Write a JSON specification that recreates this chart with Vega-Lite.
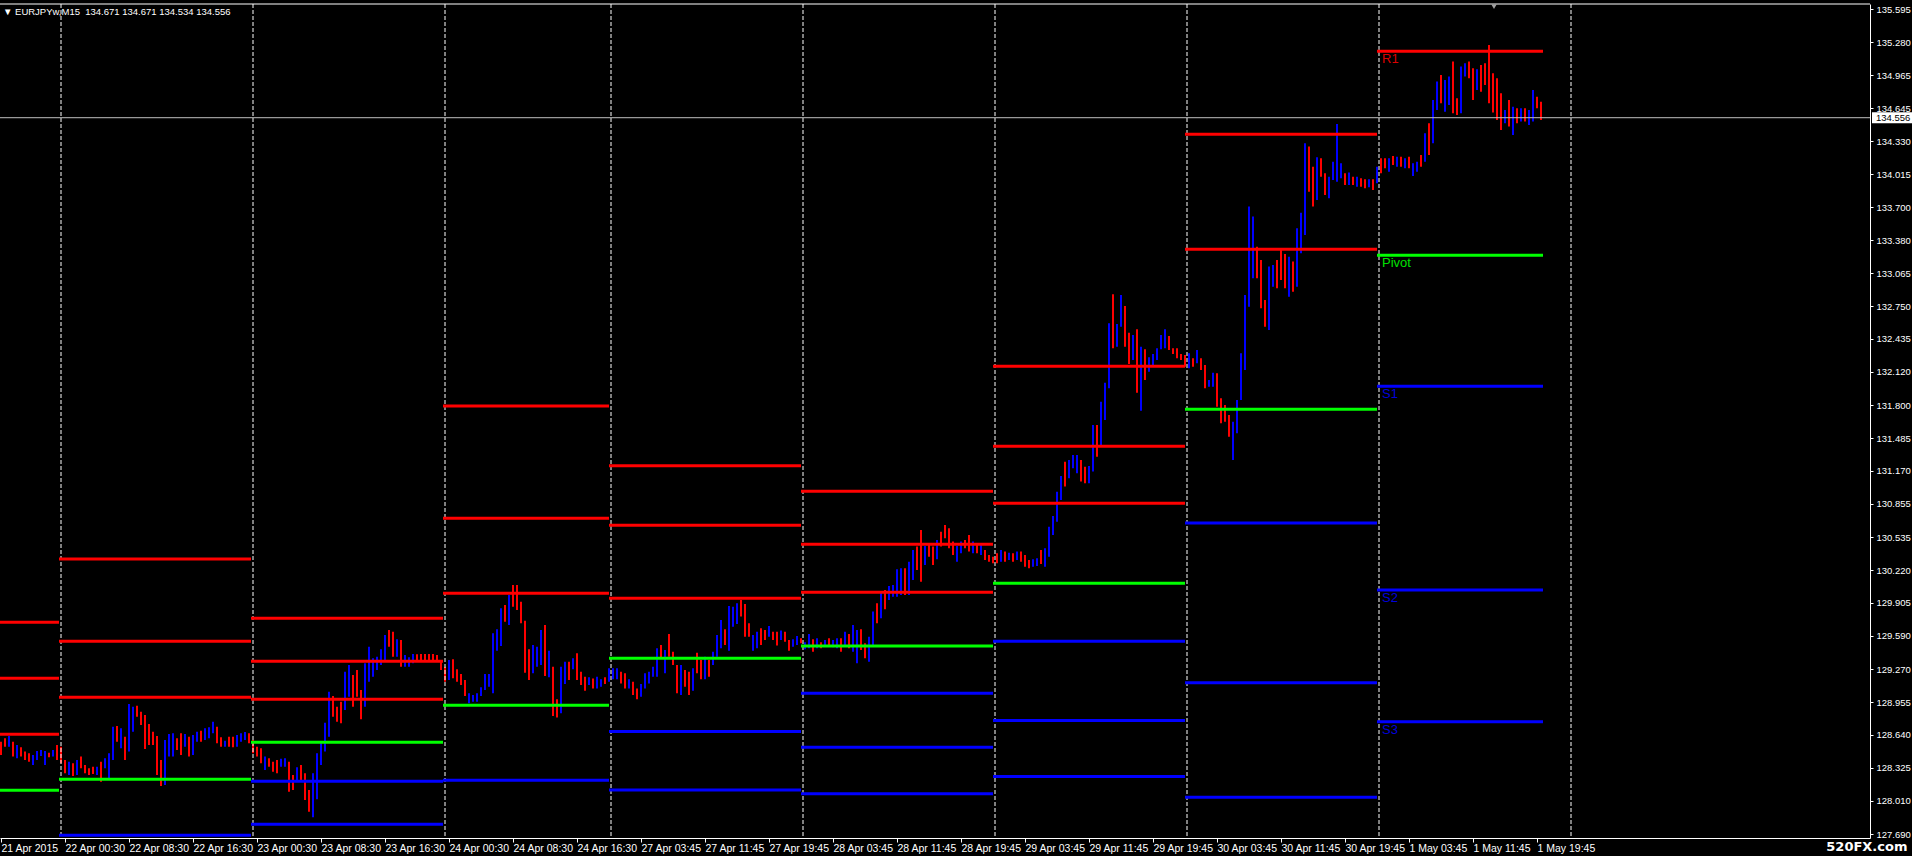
{
"$schema": "https://vega.github.io/schema/vega-lite/v6.json",
"width": 1870, "height": 834,
"autosize": {"type": "none"},
"padding": {"left": 0, "top": 4, "right": 42, "bottom": 18},
"background": "#000000",
"config": {"view": {"stroke": null}, "font": "Liberation Sans", "axis": {"labelOverlap": false}},
"datasets": {
"hdr": [{"t": "\u25bc EURJPYw,M15\u00a0\u00a0134.671 134.671 134.534 134.556"}],
"sep": [{"s":30},{"s":126},{"s":222},{"s":305},{"s":401},{"s":497},{"s":593},{"s":689},{"s":785}],
"cur": [{"p":134.556,"t":"134.556"}],
"piv": [
{"x1":-1,"x2":29,"v":129.719,"c":"R"},{"x1":-1,"x2":29,"v":129.183,"c":"R"},{"x1":-1,"x2":29,"v":128.646,"c":"R"},{"x1":-1,"x2":29,"v":128.109,"c":"P"},
{"x1":29,"x2":125,"v":130.326,"c":"R"},{"x1":29,"x2":125,"v":129.537,"c":"R"},{"x1":29,"x2":125,"v":129.000,"c":"R"},{"x1":29,"x2":125,"v":128.214,"c":"P"},{"x1":29,"x2":125,"v":127.678,"c":"S"},
{"x1":125,"x2":221,"v":129.758,"c":"R"},{"x1":125,"x2":221,"v":129.345,"c":"R"},{"x1":125,"x2":221,"v":128.981,"c":"R"},{"x1":125,"x2":221,"v":128.569,"c":"P"},{"x1":125,"x2":221,"v":128.195,"c":"S"},{"x1":125,"x2":221,"v":127.783,"c":"S"},
{"x1":221,"x2":304,"v":131.793,"c":"R"},{"x1":221,"x2":304,"v":130.716,"c":"R"},{"x1":221,"x2":304,"v":129.997,"c":"R"},{"x1":221,"x2":304,"v":128.924,"c":"P"},{"x1":221,"x2":304,"v":128.206,"c":"S"},
{"x1":304,"x2":400,"v":131.220,"c":"R"},{"x1":304,"x2":400,"v":130.649,"c":"R"},{"x1":304,"x2":400,"v":129.949,"c":"R"},{"x1":304,"x2":400,"v":129.374,"c":"P"},{"x1":304,"x2":400,"v":128.674,"c":"S"},{"x1":304,"x2":400,"v":128.112,"c":"S"},
{"x1":400,"x2":496,"v":130.975,"c":"R"},{"x1":400,"x2":496,"v":130.467,"c":"R"},{"x1":400,"x2":496,"v":130.007,"c":"R"},{"x1":400,"x2":496,"v":129.492,"c":"P"},{"x1":400,"x2":496,"v":129.039,"c":"S"},{"x1":400,"x2":496,"v":128.521,"c":"S"},{"x1":400,"x2":496,"v":128.077,"c":"S"},
{"x1":496,"x2":592,"v":132.173,"c":"R"},{"x1":496,"x2":592,"v":131.406,"c":"R"},{"x1":496,"x2":592,"v":130.860,"c":"R"},{"x1":496,"x2":592,"v":130.093,"c":"P"},{"x1":496,"x2":592,"v":129.537,"c":"S"},{"x1":496,"x2":592,"v":128.779,"c":"S"},{"x1":496,"x2":592,"v":128.241,"c":"S"},
{"x1":592,"x2":688,"v":134.397,"c":"R"},{"x1":592,"x2":688,"v":133.295,"c":"R"},{"x1":592,"x2":688,"v":131.761,"c":"P"},{"x1":592,"x2":688,"v":130.671,"c":"S"},{"x1":592,"x2":688,"v":129.141,"c":"S"},{"x1":592,"x2":688,"v":128.043,"c":"S"},
{"x1":688,"x2":771,"v":135.193,"c":"R"},{"x1":688,"x2":771,"v":133.237,"c":"P"},{"x1":688,"x2":771,"v":131.982,"c":"S"},{"x1":688,"x2":771,"v":130.029,"c":"S"},{"x1":688,"x2":771,"v":128.767,"c":"S"}
],
"lab": [
{"x":688,"v":135.193,"t":"R1","c":"R"},{"x":688,"v":133.237,"t":"Pivot","c":"P"},{"x":688,"v":131.982,"t":"S1","c":"S"},{"x":688,"v":130.029,"t":"S2","c":"S"},{"x":688,"v":128.767,"t":"S3","c":"S"}
],
"bars": [
{"b":0,"h":128.575,"l":128.448,"d":"R"},{"b":2,"h":128.607,"l":128.527,"d":"R"},{"b":4,"h":128.629,"l":128.527,"d":"B"},{"b":6,"h":128.575,"l":128.432,"d":"R"},{"b":8,"h":128.543,"l":128.416,"d":"B"},{"b":10,"h":128.522,"l":128.432,"d":"R"},{"b":12,"h":128.480,"l":128.400,"d":"R"},{"b":14,"h":128.464,"l":128.384,"d":"R"},{"b":16,"h":128.448,"l":128.352,"d":"B"},{"b":18,"h":128.486,"l":128.400,"d":"B"},
{"b":20,"h":128.496,"l":128.438,"d":"B"},{"b":22,"h":128.486,"l":128.352,"d":"B"},{"b":24,"h":128.470,"l":128.426,"d":"R"},{"b":26,"h":128.496,"l":128.432,"d":"B"},{"b":28,"h":128.543,"l":128.400,"d":"R"},{"b":30,"h":128.527,"l":128.368,"d":"R"},{"b":32,"h":128.400,"l":128.272,"d":"R"},{"b":34,"h":128.384,"l":128.256,"d":"B"},{"b":36,"h":128.368,"l":128.246,"d":"R"},{"b":38,"h":128.400,"l":128.256,"d":"B"},
{"b":40,"h":128.432,"l":128.320,"d":"R"},{"b":42,"h":128.352,"l":128.272,"d":"R"},{"b":44,"h":128.320,"l":128.256,"d":"R"},{"b":46,"h":128.336,"l":128.266,"d":"R"},{"b":48,"h":128.336,"l":128.256,"d":"B"},{"b":50,"h":128.384,"l":128.192,"d":"R"},{"b":52,"h":128.416,"l":128.320,"d":"B"},{"b":54,"h":128.464,"l":128.224,"d":"B"},{"b":56,"h":128.719,"l":128.400,"d":"B"},{"b":58,"h":128.726,"l":128.575,"d":"R"},
{"b":60,"h":128.703,"l":128.512,"d":"B"},{"b":62,"h":128.623,"l":128.400,"d":"R"},{"b":64,"h":128.937,"l":128.480,"d":"B"},{"b":66,"h":128.911,"l":128.671,"d":"B"},{"b":68,"h":128.920,"l":128.815,"d":"R"},{"b":70,"h":128.863,"l":128.735,"d":"R"},{"b":72,"h":128.831,"l":128.505,"d":"R"},{"b":74,"h":128.745,"l":128.543,"d":"R"},{"b":76,"h":128.671,"l":128.543,"d":"R"},{"b":78,"h":128.629,"l":128.256,"d":"R"},
{"b":80,"h":128.400,"l":128.150,"d":"R"},{"b":82,"h":128.591,"l":128.160,"d":"B"},{"b":84,"h":128.649,"l":128.432,"d":"B"},{"b":86,"h":128.655,"l":128.432,"d":"B"},{"b":88,"h":128.607,"l":128.496,"d":"R"},{"b":90,"h":128.655,"l":128.448,"d":"R"},{"b":92,"h":128.649,"l":128.527,"d":"B"},{"b":94,"h":128.623,"l":128.432,"d":"R"},{"b":96,"h":128.639,"l":128.448,"d":"B"},{"b":98,"h":128.671,"l":128.575,"d":"B"},
{"b":100,"h":128.680,"l":128.575,"d":"R"},{"b":102,"h":128.703,"l":128.591,"d":"B"},{"b":104,"h":128.713,"l":128.607,"d":"B"},{"b":106,"h":128.767,"l":128.655,"d":"B"},{"b":108,"h":128.719,"l":128.559,"d":"R"},{"b":110,"h":128.617,"l":128.527,"d":"R"},{"b":112,"h":128.584,"l":128.527,"d":"B"},{"b":114,"h":128.623,"l":128.527,"d":"R"},{"b":116,"h":128.623,"l":128.522,"d":"R"},{"b":118,"h":128.639,"l":128.527,"d":"B"},
{"b":120,"h":128.655,"l":128.575,"d":"B"},{"b":122,"h":128.668,"l":128.591,"d":"B"},{"b":124,"h":128.655,"l":128.559,"d":"R"},{"b":126,"h":128.591,"l":128.464,"d":"R"},{"b":128,"h":128.527,"l":128.432,"d":"R"},{"b":130,"h":128.512,"l":128.368,"d":"R"},{"b":132,"h":128.432,"l":128.304,"d":"B"},{"b":134,"h":128.416,"l":128.336,"d":"R"},{"b":136,"h":128.384,"l":128.288,"d":"R"},{"b":138,"h":128.400,"l":128.272,"d":"R"},
{"b":140,"h":128.412,"l":128.336,"d":"B"},{"b":142,"h":128.416,"l":128.336,"d":"B"},{"b":144,"h":128.384,"l":128.096,"d":"R"},{"b":146,"h":128.256,"l":128.112,"d":"R"},{"b":148,"h":128.330,"l":128.208,"d":"B"},{"b":150,"h":128.352,"l":128.201,"d":"R"},{"b":152,"h":128.272,"l":128.016,"d":"R"},{"b":154,"h":128.112,"l":127.904,"d":"R"},{"b":156,"h":128.272,"l":127.850,"d":"B"},{"b":158,"h":128.464,"l":128.023,"d":"B"},
{"b":160,"h":128.559,"l":128.352,"d":"B"},{"b":162,"h":128.757,"l":128.480,"d":"B"},{"b":164,"h":129.055,"l":128.623,"d":"B"},{"b":166,"h":129.014,"l":128.815,"d":"R"},{"b":168,"h":128.911,"l":128.767,"d":"R"},{"b":170,"h":128.959,"l":128.751,"d":"R"},{"b":172,"h":129.246,"l":128.879,"d":"B"},{"b":174,"h":129.310,"l":129.007,"d":"B"},{"b":176,"h":129.214,"l":128.911,"d":"R"},{"b":178,"h":129.262,"l":129.007,"d":"R"},
{"b":180,"h":129.071,"l":128.790,"d":"R"},{"b":182,"h":129.326,"l":128.911,"d":"B"},{"b":184,"h":129.486,"l":129.150,"d":"B"},{"b":186,"h":129.374,"l":129.198,"d":"B"},{"b":188,"h":129.390,"l":129.262,"d":"B"},{"b":190,"h":129.461,"l":129.310,"d":"B"},{"b":192,"h":129.598,"l":129.358,"d":"B"},{"b":194,"h":129.646,"l":129.486,"d":"R"},{"b":196,"h":129.630,"l":129.390,"d":"R"},{"b":198,"h":129.557,"l":129.390,"d":"B"},
{"b":200,"h":129.550,"l":129.294,"d":"R"},{"b":202,"h":129.406,"l":129.294,"d":"B"},{"b":204,"h":129.384,"l":129.294,"d":"B"},{"b":206,"h":129.416,"l":129.326,"d":"B"},{"b":208,"h":129.413,"l":129.358,"d":"R"},{"b":210,"h":129.416,"l":129.358,"d":"R"},{"b":212,"h":129.416,"l":129.358,"d":"R"},{"b":214,"h":129.416,"l":129.342,"d":"R"},{"b":216,"h":129.416,"l":129.358,"d":"R"},{"b":218,"h":129.406,"l":129.358,"d":"R"},
{"b":220,"h":129.358,"l":129.262,"d":"R"},{"b":222,"h":129.294,"l":129.150,"d":"R"},{"b":224,"h":129.358,"l":129.167,"d":"B"},{"b":226,"h":129.365,"l":129.183,"d":"R"},{"b":228,"h":129.269,"l":129.150,"d":"R"},{"b":230,"h":129.224,"l":129.119,"d":"R"},{"b":232,"h":129.167,"l":129.014,"d":"R"},{"b":234,"h":129.039,"l":128.943,"d":"B"},{"b":236,"h":129.023,"l":128.959,"d":"B"},{"b":238,"h":129.039,"l":128.959,"d":"B"},
{"b":240,"h":129.096,"l":129.014,"d":"B"},{"b":242,"h":129.224,"l":129.071,"d":"B"},{"b":244,"h":129.224,"l":129.102,"d":"B"},{"b":246,"h":129.614,"l":129.039,"d":"B"},{"b":248,"h":129.653,"l":129.448,"d":"B"},{"b":250,"h":129.854,"l":129.493,"d":"B"},{"b":252,"h":129.885,"l":129.725,"d":"R"},{"b":254,"h":129.981,"l":129.694,"d":"B"},{"b":256,"h":130.077,"l":129.869,"d":"R"},{"b":258,"h":130.077,"l":129.838,"d":"R"},
{"b":260,"h":129.917,"l":129.710,"d":"R"},{"b":262,"h":129.735,"l":129.236,"d":"R"},{"b":264,"h":129.461,"l":129.167,"d":"R"},{"b":266,"h":129.502,"l":129.230,"d":"B"},{"b":268,"h":129.486,"l":129.294,"d":"B"},{"b":270,"h":129.646,"l":129.310,"d":"B"},{"b":272,"h":129.694,"l":129.205,"d":"R"},{"b":274,"h":129.448,"l":129.192,"d":"B"},{"b":276,"h":129.294,"l":128.821,"d":"R"},{"b":278,"h":128.981,"l":128.808,"d":"R"},
{"b":280,"h":129.294,"l":128.847,"d":"B"},{"b":282,"h":129.342,"l":129.128,"d":"B"},{"b":284,"h":129.342,"l":129.167,"d":"R"},{"b":286,"h":129.374,"l":129.269,"d":"B"},{"b":288,"h":129.422,"l":129.167,"d":"R"},{"b":290,"h":129.246,"l":129.119,"d":"R"},{"b":292,"h":129.198,"l":129.064,"d":"R"},{"b":294,"h":129.192,"l":129.119,"d":"B"},{"b":296,"h":129.182,"l":129.086,"d":"R"},{"b":298,"h":129.198,"l":129.086,"d":"B"},
{"b":300,"h":129.173,"l":129.102,"d":"B"},{"b":302,"h":129.192,"l":129.128,"d":"R"},{"b":304,"h":129.278,"l":129.150,"d":"B"},{"b":306,"h":129.278,"l":129.173,"d":"B"},{"b":308,"h":129.278,"l":129.173,"d":"B"},{"b":310,"h":129.246,"l":129.134,"d":"R"},{"b":312,"h":129.230,"l":129.086,"d":"R"},{"b":314,"h":129.173,"l":129.086,"d":"B"},{"b":316,"h":129.150,"l":129.023,"d":"R"},{"b":318,"h":129.086,"l":128.981,"d":"R"},
{"b":320,"h":129.128,"l":129.007,"d":"B"},{"b":322,"h":129.230,"l":129.086,"d":"B"},{"b":324,"h":129.246,"l":129.134,"d":"B"},{"b":326,"h":129.294,"l":129.198,"d":"B"},{"b":328,"h":129.470,"l":129.198,"d":"B"},{"b":330,"h":129.502,"l":129.374,"d":"R"},{"b":332,"h":129.454,"l":129.230,"d":"B"},{"b":334,"h":129.608,"l":129.390,"d":"R"},{"b":336,"h":129.438,"l":129.310,"d":"R"},{"b":338,"h":129.310,"l":129.039,"d":"R"},
{"b":340,"h":129.310,"l":129.023,"d":"B"},{"b":342,"h":129.262,"l":129.102,"d":"R"},{"b":344,"h":129.246,"l":129.023,"d":"R"},{"b":346,"h":129.278,"l":129.064,"d":"B"},{"b":348,"h":129.428,"l":129.230,"d":"R"},{"b":350,"h":129.358,"l":129.173,"d":"R"},{"b":352,"h":129.390,"l":129.173,"d":"B"},{"b":354,"h":129.358,"l":129.198,"d":"R"},{"b":356,"h":129.438,"l":129.310,"d":"B"},{"b":358,"h":129.598,"l":129.390,"d":"B"},
{"b":360,"h":129.742,"l":129.470,"d":"B"},{"b":362,"h":129.653,"l":129.502,"d":"R"},{"b":364,"h":129.876,"l":129.448,"d":"B"},{"b":366,"h":129.869,"l":129.678,"d":"B"},{"b":368,"h":129.902,"l":129.704,"d":"B"},{"b":370,"h":129.933,"l":129.774,"d":"R"},{"b":372,"h":129.895,"l":129.582,"d":"R"},{"b":374,"h":129.710,"l":129.582,"d":"R"},{"b":376,"h":129.598,"l":129.448,"d":"B"},{"b":378,"h":129.630,"l":129.470,"d":"B"},
{"b":380,"h":129.662,"l":129.502,"d":"R"},{"b":382,"h":129.646,"l":129.550,"d":"R"},{"b":384,"h":129.685,"l":129.582,"d":"B"},{"b":386,"h":129.630,"l":129.550,"d":"R"},{"b":388,"h":129.630,"l":129.496,"d":"R"},{"b":390,"h":129.640,"l":129.550,"d":"B"},{"b":392,"h":129.630,"l":129.534,"d":"R"},{"b":394,"h":129.550,"l":129.448,"d":"R"},{"b":396,"h":129.557,"l":129.486,"d":"B"},{"b":398,"h":129.589,"l":129.502,"d":"B"},
{"b":400,"h":129.566,"l":129.518,"d":"R"},{"b":402,"h":129.528,"l":129.461,"d":"B"},{"b":404,"h":129.608,"l":129.470,"d":"B"},{"b":406,"h":129.557,"l":129.438,"d":"R"},{"b":408,"h":129.566,"l":129.470,"d":"B"},{"b":410,"h":129.528,"l":129.470,"d":"R"},{"b":412,"h":129.550,"l":129.486,"d":"B"},{"b":414,"h":129.566,"l":129.486,"d":"R"},{"b":416,"h":129.550,"l":129.480,"d":"B"},{"b":418,"h":129.566,"l":129.470,"d":"B"},
{"b":420,"h":129.566,"l":129.438,"d":"R"},{"b":422,"h":129.630,"l":129.486,"d":"B"},{"b":424,"h":129.608,"l":129.470,"d":"R"},{"b":426,"h":129.694,"l":129.438,"d":"B"},{"b":428,"h":129.646,"l":129.326,"d":"B"},{"b":430,"h":129.653,"l":129.454,"d":"R"},{"b":432,"h":129.518,"l":129.374,"d":"R"},{"b":434,"h":129.582,"l":129.342,"d":"B"},{"b":436,"h":129.822,"l":129.486,"d":"B"},{"b":438,"h":129.902,"l":129.710,"d":"R"},
{"b":440,"h":130.013,"l":129.758,"d":"B"},{"b":442,"h":130.029,"l":129.844,"d":"R"},{"b":444,"h":130.067,"l":129.933,"d":"B"},{"b":446,"h":130.077,"l":129.965,"d":"B"},{"b":448,"h":130.227,"l":129.965,"d":"B"},{"b":450,"h":130.237,"l":129.981,"d":"B"},{"b":452,"h":130.237,"l":129.981,"d":"R"},{"b":454,"h":130.301,"l":129.981,"d":"B"},{"b":456,"h":130.413,"l":130.125,"d":"B"},{"b":458,"h":130.445,"l":130.221,"d":"R"},
{"b":460,"h":130.604,"l":130.109,"d":"R"},{"b":462,"h":130.451,"l":130.269,"d":"B"},{"b":464,"h":130.461,"l":130.349,"d":"R"},{"b":466,"h":130.445,"l":130.269,"d":"R"},{"b":468,"h":130.509,"l":130.324,"d":"B"},{"b":470,"h":130.588,"l":130.445,"d":"R"},{"b":472,"h":130.652,"l":130.525,"d":"R"},{"b":474,"h":130.620,"l":130.429,"d":"R"},{"b":476,"h":130.493,"l":130.365,"d":"R"},{"b":478,"h":130.451,"l":130.301,"d":"B"},
{"b":480,"h":130.493,"l":130.381,"d":"B"},{"b":482,"h":130.509,"l":130.429,"d":"R"},{"b":484,"h":130.557,"l":130.397,"d":"R"},{"b":486,"h":130.493,"l":130.381,"d":"B"},{"b":488,"h":130.461,"l":130.381,"d":"R"},{"b":490,"h":130.461,"l":130.365,"d":"B"},{"b":492,"h":130.413,"l":130.317,"d":"R"},{"b":494,"h":130.365,"l":130.301,"d":"R"},{"b":496,"h":130.349,"l":130.285,"d":"R"},{"b":498,"h":130.381,"l":130.285,"d":"R"},
{"b":500,"h":130.413,"l":130.301,"d":"B"},{"b":502,"h":130.397,"l":130.301,"d":"R"},{"b":504,"h":130.387,"l":130.317,"d":"B"},{"b":506,"h":130.381,"l":130.301,"d":"R"},{"b":508,"h":130.397,"l":130.317,"d":"B"},{"b":510,"h":130.397,"l":130.301,"d":"R"},{"b":512,"h":130.365,"l":130.253,"d":"R"},{"b":514,"h":130.317,"l":130.237,"d":"R"},{"b":516,"h":130.324,"l":130.253,"d":"B"},{"b":518,"h":130.333,"l":130.259,"d":"B"},
{"b":520,"h":130.413,"l":130.279,"d":"R"},{"b":522,"h":130.429,"l":130.253,"d":"B"},{"b":524,"h":130.636,"l":130.349,"d":"B"},{"b":526,"h":130.738,"l":130.557,"d":"B"},{"b":528,"h":130.972,"l":130.684,"d":"B"},{"b":530,"h":131.122,"l":130.892,"d":"B"},{"b":532,"h":131.259,"l":131.020,"d":"R"},{"b":534,"h":131.275,"l":131.100,"d":"B"},{"b":536,"h":131.323,"l":131.196,"d":"B"},{"b":538,"h":131.323,"l":131.148,"d":"B"},
{"b":540,"h":131.275,"l":131.068,"d":"R"},{"b":542,"h":131.211,"l":131.052,"d":"R"},{"b":544,"h":131.217,"l":131.052,"d":"B"},{"b":546,"h":131.611,"l":131.164,"d":"B"},{"b":548,"h":131.611,"l":131.307,"d":"R"},{"b":550,"h":131.834,"l":131.403,"d":"B"},{"b":552,"h":132.016,"l":131.659,"d":"B"},{"b":554,"h":132.586,"l":131.963,"d":"B"},{"b":556,"h":132.864,"l":132.346,"d":"R"},{"b":558,"h":132.579,"l":132.361,"d":"B"},
{"b":560,"h":132.857,"l":132.553,"d":"B"},{"b":562,"h":132.752,"l":132.361,"d":"R"},{"b":564,"h":132.496,"l":132.196,"d":"R"},{"b":566,"h":132.474,"l":132.234,"d":"B"},{"b":568,"h":132.528,"l":131.920,"d":"R"},{"b":570,"h":132.361,"l":131.748,"d":"B"},{"b":572,"h":132.337,"l":132.042,"d":"R"},{"b":574,"h":132.260,"l":132.122,"d":"B"},{"b":576,"h":132.292,"l":132.186,"d":"B"},{"b":578,"h":132.346,"l":132.234,"d":"B"},
{"b":580,"h":132.474,"l":132.337,"d":"B"},{"b":582,"h":132.528,"l":132.346,"d":"B"},{"b":584,"h":132.464,"l":132.330,"d":"R"},{"b":586,"h":132.346,"l":132.292,"d":"R"},{"b":588,"h":132.346,"l":132.250,"d":"R"},{"b":590,"h":132.292,"l":132.234,"d":"R"},{"b":592,"h":132.282,"l":132.170,"d":"R"},{"b":594,"h":132.298,"l":132.154,"d":"B"},{"b":596,"h":132.250,"l":132.170,"d":"R"},{"b":598,"h":132.330,"l":132.202,"d":"B"},
{"b":600,"h":132.250,"l":132.138,"d":"R"},{"b":602,"h":132.186,"l":131.963,"d":"R"},{"b":604,"h":132.042,"l":131.978,"d":"B"},{"b":606,"h":132.112,"l":131.978,"d":"B"},{"b":608,"h":132.106,"l":131.786,"d":"R"},{"b":610,"h":131.867,"l":131.627,"d":"R"},{"b":612,"h":131.803,"l":131.643,"d":"R"},{"b":614,"h":131.707,"l":131.499,"d":"R"},{"b":616,"h":131.643,"l":131.275,"d":"B"},{"b":618,"h":131.851,"l":131.531,"d":"B"},
{"b":620,"h":132.298,"l":131.851,"d":"B"},{"b":622,"h":132.857,"l":132.138,"d":"B"},{"b":624,"h":133.704,"l":132.745,"d":"B"},{"b":626,"h":133.608,"l":133.017,"d":"B"},{"b":628,"h":133.320,"l":133.017,"d":"R"},{"b":630,"h":133.193,"l":132.729,"d":"R"},{"b":632,"h":132.809,"l":132.553,"d":"R"},{"b":634,"h":133.129,"l":132.522,"d":"B"},{"b":636,"h":133.145,"l":132.937,"d":"B"},{"b":638,"h":133.193,"l":132.921,"d":"R"},
{"b":640,"h":133.289,"l":133.001,"d":"R"},{"b":642,"h":133.250,"l":132.921,"d":"R"},{"b":644,"h":133.224,"l":132.841,"d":"B"},{"b":646,"h":133.177,"l":132.889,"d":"R"},{"b":648,"h":133.496,"l":132.937,"d":"B"},{"b":650,"h":133.646,"l":133.257,"d":"B"},{"b":652,"h":134.311,"l":133.432,"d":"B"},{"b":654,"h":134.279,"l":133.847,"d":"R"},{"b":656,"h":134.087,"l":133.704,"d":"R"},{"b":658,"h":134.177,"l":133.768,"d":"B"},
{"b":660,"h":134.168,"l":133.991,"d":"R"},{"b":662,"h":134.024,"l":133.816,"d":"R"},{"b":664,"h":133.991,"l":133.784,"d":"B"},{"b":666,"h":134.135,"l":133.960,"d":"B"},{"b":668,"h":134.496,"l":133.943,"d":"B"},{"b":670,"h":134.119,"l":133.976,"d":"B"},{"b":672,"h":134.024,"l":133.912,"d":"R"},{"b":674,"h":134.030,"l":133.912,"d":"B"},{"b":676,"h":133.991,"l":133.912,"d":"R"},{"b":678,"h":133.991,"l":133.895,"d":"B"},
{"b":680,"h":133.976,"l":133.895,"d":"R"},{"b":682,"h":133.966,"l":133.880,"d":"R"},{"b":684,"h":133.966,"l":133.889,"d":"B"},{"b":686,"h":133.966,"l":133.864,"d":"R"},{"b":688,"h":134.087,"l":133.928,"d":"B"},{"b":690,"h":134.168,"l":134.024,"d":"R"},{"b":692,"h":134.168,"l":134.072,"d":"R"},{"b":694,"h":134.168,"l":134.039,"d":"B"},{"b":696,"h":134.190,"l":134.103,"d":"R"},{"b":698,"h":134.183,"l":134.087,"d":"B"},
{"b":700,"h":134.183,"l":134.087,"d":"R"},{"b":702,"h":134.168,"l":134.072,"d":"B"},{"b":704,"h":134.183,"l":134.072,"d":"R"},{"b":706,"h":134.119,"l":133.998,"d":"B"},{"b":708,"h":134.135,"l":134.039,"d":"B"},{"b":710,"h":134.199,"l":134.087,"d":"R"},{"b":712,"h":134.407,"l":134.135,"d":"B"},{"b":714,"h":134.503,"l":134.199,"d":"R"},{"b":716,"h":134.726,"l":134.311,"d":"B"},{"b":718,"h":134.902,"l":134.630,"d":"B"},
{"b":720,"h":134.966,"l":134.695,"d":"R"},{"b":722,"h":134.918,"l":134.614,"d":"B"},{"b":724,"h":134.950,"l":134.678,"d":"B"},{"b":726,"h":135.094,"l":134.599,"d":"R"},{"b":728,"h":134.743,"l":134.583,"d":"R"},{"b":730,"h":135.046,"l":134.599,"d":"B"},{"b":732,"h":135.078,"l":134.950,"d":"B"},{"b":734,"h":135.094,"l":134.934,"d":"R"},{"b":736,"h":135.030,"l":134.726,"d":"R"},{"b":738,"h":135.021,"l":134.822,"d":"B"},
{"b":740,"h":135.062,"l":134.806,"d":"R"},{"b":742,"h":135.078,"l":134.870,"d":"R"},{"b":744,"h":135.254,"l":134.695,"d":"R"},{"b":746,"h":134.982,"l":134.605,"d":"R"},{"b":748,"h":134.934,"l":134.535,"d":"R"},{"b":750,"h":134.791,"l":134.439,"d":"R"},{"b":752,"h":134.630,"l":134.503,"d":"B"},{"b":754,"h":134.726,"l":134.471,"d":"R"},{"b":756,"h":134.662,"l":134.391,"d":"B"},{"b":758,"h":134.647,"l":134.503,"d":"R"},
{"b":760,"h":134.647,"l":134.519,"d":"B"},{"b":762,"h":134.647,"l":134.519,"d":"R"},{"b":764,"h":134.630,"l":134.487,"d":"B"},{"b":766,"h":134.822,"l":134.519,"d":"B"},{"b":768,"h":134.758,"l":134.647,"d":"R"},{"b":770,"h":134.710,"l":134.534,"d":"R"}
]
},
"layer": [
{"data": {"name": "bars"}, "mark": {"type": "rule", "strokeWidth": 2, "strokeCap": "butt"},
 "encoding": {
  "x": {"field": "b", "type": "quantitative", "scale": {"domain": [-0.5, 934.5], "nice": false, "zero": false},
   "axis": {"values": [0,32,64,96,128,160,192,224,256,288,320,352,384,416,448,480,512,544,576,608,640,672,704,736,768], "tickCount": 60,
    "labelExpr": "['21 Apr 2015','22 Apr 00:30','22 Apr 08:30','22 Apr 16:30','23 Apr 00:30','23 Apr 08:30','23 Apr 16:30','24 Apr 00:30','24 Apr 08:30','24 Apr 16:30','27 Apr 03:45','27 Apr 11:45','27 Apr 19:45','28 Apr 03:45','28 Apr 11:45','28 Apr 19:45','29 Apr 03:45','29 Apr 11:45','29 Apr 19:45','30 Apr 03:45','30 Apr 11:45','30 Apr 19:45','1 May 03:45','1 May 11:45','1 May 19:45'][round(datum.value/32)]",
    "labelAlign": "left", "labelOffset": 0, "labelPadding": 1, "labelColor": "#ffffff", "labelFont": "Liberation Sans", "labelFontSize": 10.5,
    "labelOverlap": false, "labelFlush": false, "tickColor": "#ffffff", "tickSize": 4, "domain": true, "domainColor": "#ffffff", "ticks": true, "labels": true, "grid": false,
    "title": "520FX.com", "titleColor": "#ffffff", "titleFont": "DejaVu Sans", "titleFontSize": 13, "titleFontWeight": "bold",
    "titleX": 1907, "titleY": 8, "titleAlign": "right", "titleBaseline": "middle"}},
  "y": {"field": "h", "type": "quantitative", "scale": {"domain": [127.652, 135.646], "nice": false, "zero": false},
   "axis": {"orient": "right", "values": [127.69,128.01,128.325,128.64,128.955,129.27,129.59,129.905,130.22,130.535,130.855,131.17,131.485,131.8,132.12,132.435,132.75,133.065,133.38,133.7,134.015,134.33,134.645,134.965,135.28,135.595], "tickCount": 60,
    "format": ".3f", "labelColor": "#ffffff", "labelFont": "Liberation Sans", "labelFontSize": 9.5, "labelPadding": 3,
    "labelOverlap": false, "labelFlush": false, "tickColor": "#ffffff", "tickSize": 3, "domain": true, "domainColor": "#ffffff", "ticks": true, "labels": true, "grid": false, "title": null}},
  "y2": {"field": "l"},
  "color": {"field": "d", "type": "nominal", "scale": {"domain": ["R", "B"], "range": ["#ff0000", "#0000ff"]}, "legend": null}}},
{"data": {"name": "sep"}, "mark": {"type": "rule", "color": "#ffffff", "strokeWidth": 1, "strokeDash": [4, 2]},
 "encoding": {"x": {"field": "s", "type": "quantitative"}}},
{"data": {"name": "cur"}, "mark": {"type": "rule", "color": "#c0c0c0", "strokeWidth": 1},
 "encoding": {"y": {"field": "p", "type": "quantitative"}}},
{"data": {"name": "piv"}, "mark": {"type": "rule", "strokeWidth": 3, "strokeCap": "butt"},
 "encoding": {
  "x": {"field": "x1", "type": "quantitative"},
  "x2": {"field": "x2"},
  "y": {"field": "v", "type": "quantitative"},
  "color": {"field": "c", "type": "nominal", "scale": {"domain": ["R", "P", "S"], "range": ["#ff0000", "#00ff00", "#0000ff"]}, "legend": null}}},
{"data": {"name": "lab"}, "mark": {"type": "text", "align": "left", "baseline": "top", "dx": 5, "dy": 2, "font": "Liberation Sans", "fontSize": 13},
 "encoding": {
  "x": {"field": "x", "type": "quantitative"},
  "y": {"field": "v", "type": "quantitative"},
  "text": {"field": "t"},
  "color": {"field": "c", "type": "nominal", "scale": {"domain": ["R", "P", "S"], "range": ["#dd0000", "#00e000", "#0000dd"]}, "legend": null}}},
{"data": {"name": "cur"}, "mark": {"type": "rule", "color": "#ffffff", "strokeWidth": 11, "strokeCap": "butt"},
 "encoding": {
  "x": {"datum": 935.5, "type": "quantitative"},
  "x2": {"datum": 956},
  "y": {"field": "p", "type": "quantitative"}}},
{"data": {"name": "cur"}, "mark": {"type": "text", "color": "#000000", "align": "left", "baseline": "middle", "font": "Liberation Sans", "fontSize": 9.5},
 "encoding": {
  "x": {"datum": 937.5, "type": "quantitative"},
  "y": {"field": "p", "type": "quantitative"},
  "text": {"field": "t"}}},
{"data": {"values": [{"v": 135.646}]}, "mark": {"type": "rule", "color": "#ffffff", "strokeWidth": 1},
 "encoding": {"y": {"field": "v", "type": "quantitative"}}},
{"data": {"values": [{"b": 746.5, "v": 135.622}]}, "mark": {"type": "point", "shape": "triangle-down", "filled": true, "size": 30, "color": "#a0a0a0", "opacity": 1},
 "encoding": {
  "x": {"field": "b", "type": "quantitative"},
  "y": {"field": "v", "type": "quantitative"}}},
{"data": {"name": "hdr"}, "mark": {"type": "text", "color": "#ffffff", "align": "left", "baseline": "alphabetic", "font": "Liberation Sans", "fontSize": 9.5},
 "encoding": {
  "x": {"datum": 1, "type": "quantitative"},
  "y": {"datum": 135.54, "type": "quantitative"},
  "text": {"field": "t"}}}
],
"resolve": {"scale": {"color": "independent"}}
}
